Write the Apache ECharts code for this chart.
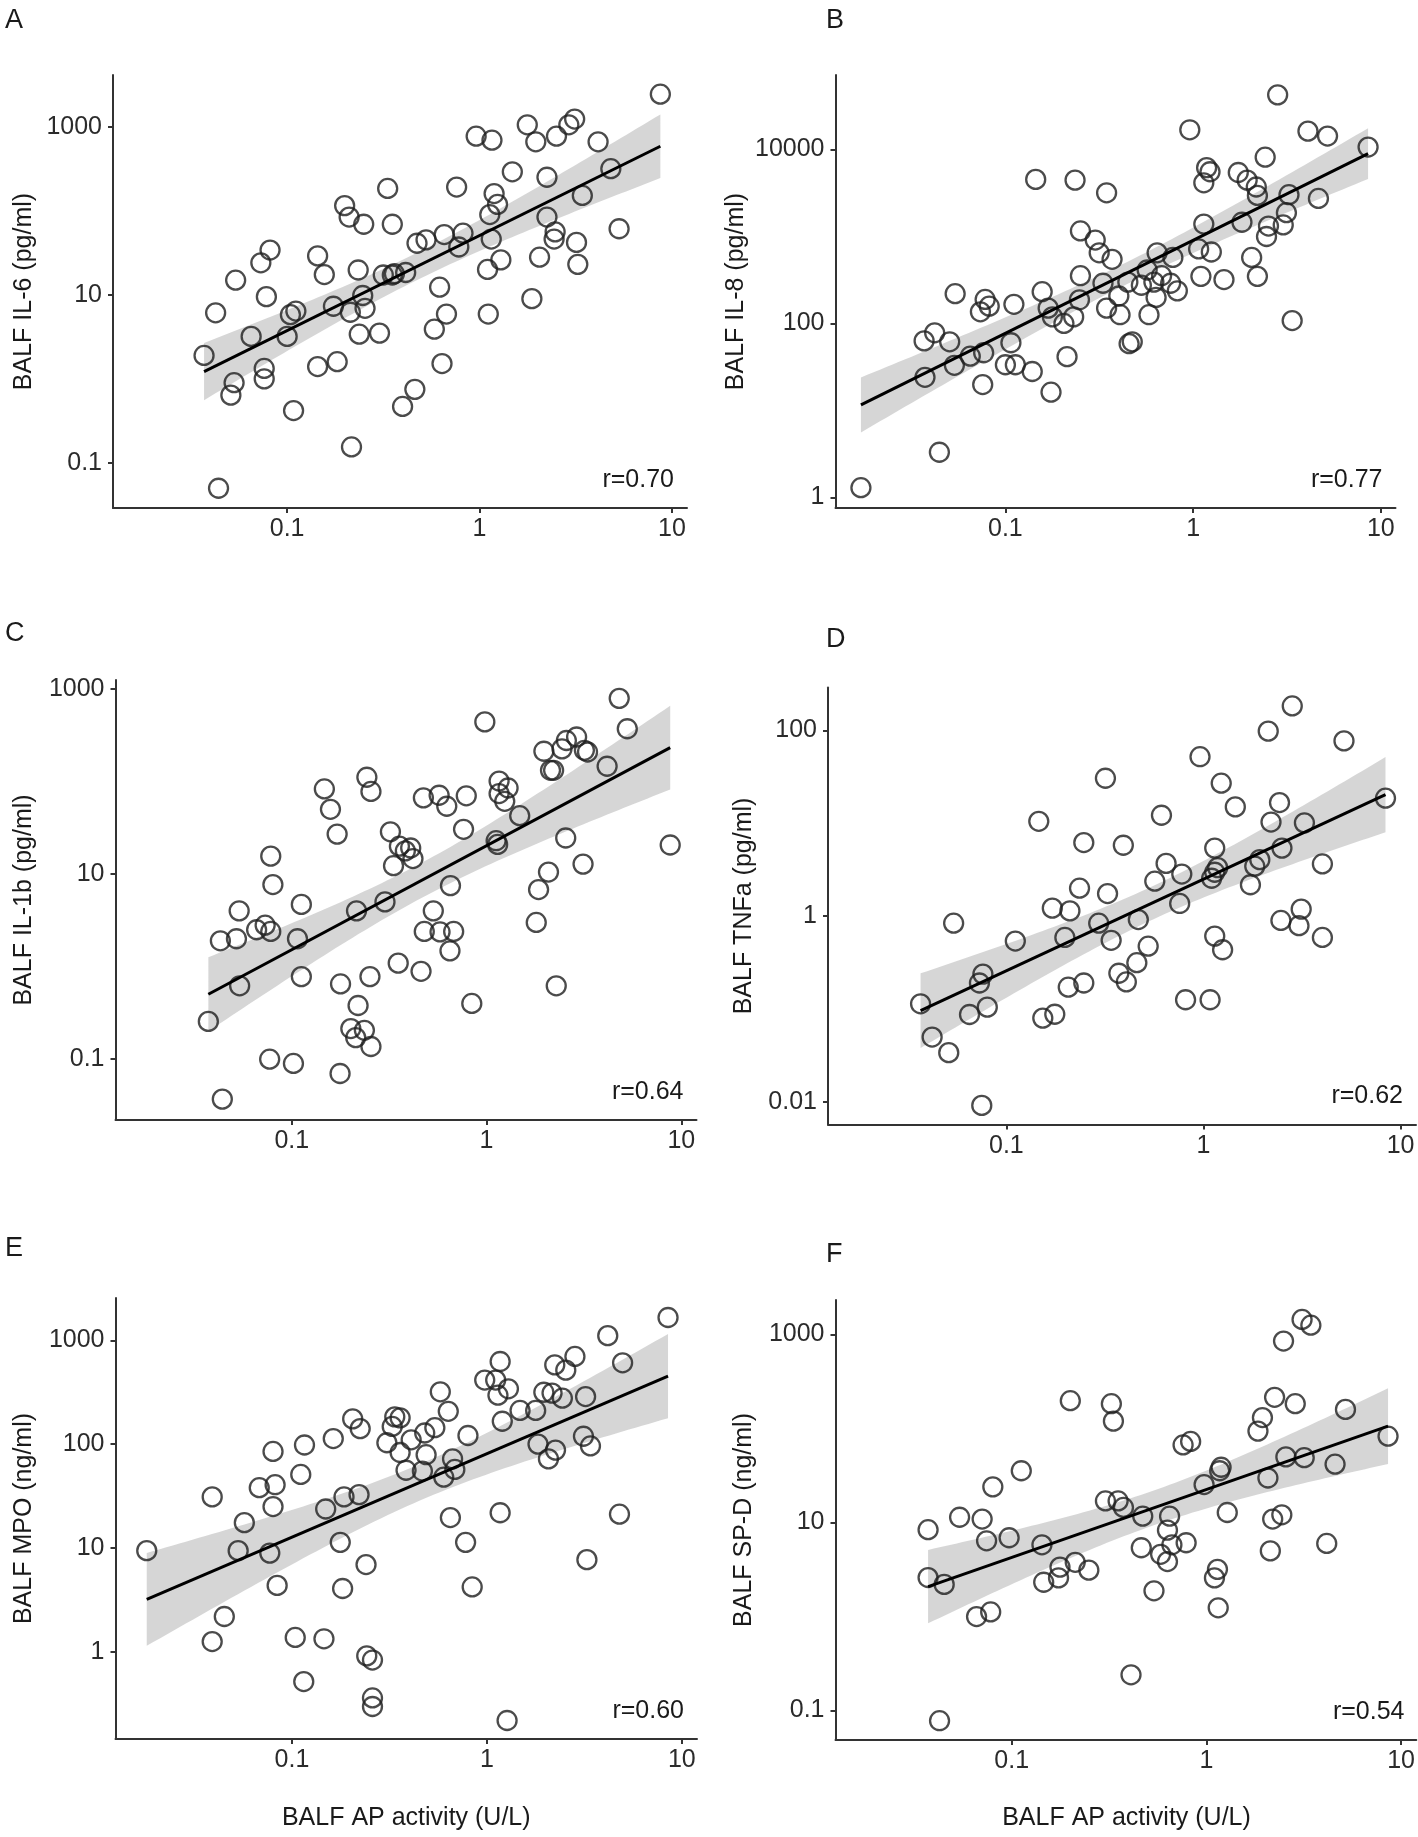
<!DOCTYPE html>
<html><head><meta charset="utf-8">
<script src="https://cdn.jsdelivr.net/npm/echarts@6/dist/echarts.min.js"></script>
<style>html,body{margin:0;padding:0;background:#fff;}#c{width:1418px;height:1837px;}</style>
</head><body><div id="c"></div>
<script>
// ---------------- DATA ----------------
// x = BALF AP activity (U/L), y = marker concentration
const apIL6 = [8.7,0.96,1.16,1.77,1.96,2.51,2.91,3.12,4.13,1.48,2.24,4.81,0.76,0.333,1.19,1.24,1.13,3.42,0.199,0.21,0.25,0.352,2.24,5.31,2.47,2.44,1.15,3.19,0.655,0.82,0.527,0.473,0.78,2.05,1.29,3.24,1.1,0.0815,0.073,0.144,0.156,0.234,0.054,0.078,0.316,0.361,0.413,0.352,0.62,0.247,0.174,0.213,0.254,0.111,0.0425,0.673,1.11,1.87,0.1,0.065,0.237,0.302,0.582,0.037,0.144,0.182,0.076,0.076,0.638,0.053,0.051,0.461,0.398,0.108,0.216,0.044,0.104];
const il6 = [2430,770,690,1050,660,770,1050,1230,660,290,250,316,191,184,160,119,90,152,115,84,69,69,84,61,56,46,46,42,52,54,45,41,37,28,26,23,20,34,24,29,17.4,19.7,14.9,9.5,17.2,17.8,18.4,17.2,12.3,9.8,7.3,6.2,6.9,6.4,6.1,5.9,5.9,9.0,3.2,3.2,3.4,3.5,3.9,1.9,1.4,1.6,1.33,1.0,1.52,0.9,0.64,0.75,0.47,0.42,0.155,0.05,5.8];

const apIL8 = [2.82,0.96,4.09,5.2,8.55,2.42,1.18,1.23,1.74,1.94,1.14,2.17,2.2,3.24,4.65,0.145,0.235,0.346,3.14,1.14,1.82,3.02,2.52,2.46,0.251,0.301,0.316,0.37,0.643,0.78,1.07,1.25,2.05,1.1,1.46,2.2,0.251,0.569,0.679,0.618,0.759,0.824,0.331,0.449,0.53,0.635,0.402,0.157,0.248,0.054,0.346,0.408,0.582,0.169,0.178,0.231,0.205,0.078,0.082,0.0736,0.111,3.37,0.0369,0.042,0.0505,0.107,0.456,0.474,0.065,0.0766,0.0535,0.1,0.113,0.213,0.139,0.0373,0.0757,0.175,0.0445,0.017];
const il8 = [42600,16900,16300,14300,10700,8170,6200,5560,5450,4450,4150,3710,2970,3030,2740,4540,4450,3180,1880,1390,1460,1360,1320,1000,1160,910,650,547,650,575,720,664,575,348,320,348,354,412,354,299,290,237,290,299,275,199,207,232,187,220,150,126,126,150,119,119,100,189,158,136,166,108,63,78,61.5,60,58.5,61.5,42,46,33,33.5,33.5,41.5,28,24,19.8,16.2,3.3,1.29];

const apIL1b = [4.8,0.98,5.28,2.9,2.57,2.44,1.97,3.18,3.3,2.13,2.21,4.16,0.243,0.255,0.147,0.158,1.16,1.29,1.16,1.24,0.474,0.571,0.625,0.787,1.48,0.171,0.321,0.762,0.357,0.383,0.408,0.419,0.333,1.12,1.14,2.55,8.77,3.13,0.078,2.08,0.08,0.653,1.85,0.112,0.301,0.215,0.533,0.0537,0.066,0.073,0.078,0.107,0.043,0.052,1.8,0.479,0.577,0.678,0.649,0.352,0.461,0.112,0.252,0.178,0.054,2.28,0.219,0.84,0.0373,0.201,0.213,0.236,0.255,0.077,0.102,0.177,0.044];
const il1b = [790,440,371,302,277,225,212,217,208,132,132,146,111,78,83,50,101,85,74,61,66.5,71,54,70,42.7,27,28.6,30.4,20,17.8,19.1,14.7,12.3,22.9,20.9,24.5,20.6,12.8,15.6,10.5,7.7,7.5,6.8,4.7,5.0,4.0,4.0,4.0,2.5,2.8,2.4,2.0,1.9,2.0,3.0,2.4,2.37,2.4,1.48,1.09,0.89,0.78,0.78,0.65,0.62,0.62,0.38,0.4,0.256,0.214,0.171,0.205,0.137,0.1,0.09,0.07,0.037];

const apTNF = [2.82,2.13,5.16,0.96,0.318,1.23,8.38,2.43,1.45,0.612,0.146,2.2,3.25,0.247,0.392,1.14,2.5,0.646,1.93,1.82,4.01,0.776,1.18,1.14,1.1,0.566,1.73,0.235,0.326,0.757,0.171,0.21,3.13,0.467,0.294,2.47,3.05,0.054,0.198,0.34,4.01,0.111,1.14,1.25,0.524,0.459,0.372,0.406,0.076,0.073,0.247,0.206,0.811,1.08,0.0367,0.08,0.065,0.153,0.176,0.042,0.051,0.075];
const tnfa = [183,98,77,52,30.5,27,18.6,16.7,15,12.2,10.5,10.3,10.1,6.2,5.8,5.4,5.4,3.7,4.06,3.45,3.65,2.84,3.33,2.97,2.56,2.38,2.18,2.0,1.75,1.37,1.22,1.14,1.19,0.92,0.84,0.9,0.79,0.84,0.59,0.55,0.59,0.54,0.61,0.435,0.475,0.316,0.243,0.196,0.238,0.191,0.191,0.172,0.126,0.126,0.114,0.105,0.0875,0.08,0.088,0.05,0.034,0.0092];

const apMPO = [8.5,4.17,1.17,2.83,2.23,2.54,4.97,0.975,1.11,1.14,1.29,1.96,2.16,2.44,3.21,0.577,0.634,1.48,1.78,1.2,0.205,0.224,0.337,0.359,0.327,0.541,0.48,0.409,0.307,0.163,0.116,0.08,0.8,0.359,0.488,0.667,1.83,2.07,2.25,3.13,3.4,0.385,0.467,0.685,0.601,0.111,0.068,0.082,0.185,0.221,0.039,0.149,0.08,0.057,0.65,1.17,4.79,0.177,0.778,0.018,0.053,0.077,3.26,0.24,0.084,0.182,0.841,0.045,0.039,0.104,0.146,0.242,0.259,0.115,0.259,0.259,1.27];
const mpo = [1660,1110,625,700,580,516,607,414,414,296,341,316,310,277,287,319,207,211,211,166,175,141,183,179,148,144,128,110,103,113,98,85,121,83,79,72,100,72,87.5,119,96,56,55,57,48,51,38,40.6,31,32.6,31,23.7,25,17.5,19.6,21.8,21.1,11.3,11.3,9.4,9.4,8.9,7.7,6.9,4.35,4.06,4.2,2.18,1.25,1.37,1.33,0.91,0.83,0.515,0.358,0.296,0.217];

const apSPD = [3.1,3.44,2.49,0.2,0.325,0.333,2.24,2.86,5.18,1.94,1.84,8.57,0.83,0.759,2.56,3.18,4.58,0.112,1.19,1.17,2.07,0.973,0.08,0.303,0.352,0.375,0.471,0.647,1.28,2.19,2.44,0.054,0.0705,0.0372,0.631,0.0743,0.097,0.143,0.463,0.665,0.787,4.15,2.13,0.582,0.631,0.212,0.177,0.249,0.174,0.146,1.14,1.1,0.0372,0.045,0.538,1.15,0.066,0.078,0.41,0.0426];
const spd = [1450,1260,853,198,184,120,215,184,160,131,94,83,73,67,50,49,41.8,35.6,38.8,35.6,29.8,25.4,24,17,17,14.5,11.7,11.7,12.8,10.9,12.1,11.4,10.9,8.4,8.3,6.4,6.9,5.8,5.4,5.8,6.1,6.0,5.0,4.6,3.85,3.78,3.36,3.12,2.58,2.32,3.18,2.58,2.6,2.2,1.88,1.24,1.0,1.12,0.24,0.078];

// tick labels
const xTicks = [0.1, 1, 10];
const yTicksIL6 = [0.1, 10, 1000];
const yTicksIL8 = [1, 100, 10000];
const yTicksIL1b = [0.1, 10, 1000];
const yTicksTNF = [0.01, 1, 100];
const yTicksMPO = [1, 10, 100, 1000];
const yTicksSPD = [0.1, 10, 1000];

// texts
const letters = ['A','B','C','D','E','F'];
const yTitles = ['BALF IL-6 (pg/ml)','BALF IL-8 (pg/ml)','BALF IL-1b (pg/ml)','BALF TNFa (pg/ml)','BALF MPO (ng/ml)','BALF SP-D (ng/ml)'];
const rLabels = ['r=0.70','r=0.77','r=0.64','r=0.62','r=0.60','r=0.54'];
const xTitle = 'BALF AP activity (U/L)';

// ---------------- LAYOUT ----------------
const FONT = "'Liberation Sans', Arial, Helvetica, sans-serif";
const XRANGE = [-1.905, 1.078]; // log10 units
const panels = [
  {x: apIL6,  y: il6,  yTicks: yTicksIL6,  yRange: [-1.536, 3.614], grid: {left: 113,   top: 75,   width: 574,   height: 433}, titleX: 24,  letter: [5, 21],    xTitle: false},
  {x: apIL8,  y: il8,  yTicks: yTicksIL8,  yRange: [-0.123, 4.858], grid: {left: 835.5, top: 75,   width: 560,   height: 433}, titleX: 736, letter: [826, 21],  xTitle: false},
  {x: apIL1b, y: il1b, yTicks: yTicksIL1b, yRange: [-1.657, 3.096], grid: {left: 115.5, top: 680,  width: 581,   height: 440}, titleX: 24,  letter: [5, 634],   xTitle: false},
  {x: apTNF,  y: tnfa, yTicks: yTicksTNF,  yRange: [-2.242, 2.461], grid: {left: 828,   top: 687.5,width: 588,   height: 437}, titleX: 744, letter: [826, 640], xTitle: false},
  {x: apMPO,  y: mpo,  yTicks: yTicksMPO,  yRange: [-0.842, 3.408], grid: {left: 115.5, top: 1298, width: 581.5, height: 441}, titleX: 24,  letter: [5, 1249],  xTitle: true},
  {x: apSPD,  y: spd,  yTicks: yTicksSPD,  yRange: [-1.313, 3.368], grid: {left: 835.5, top: 1300, width: 582,   height: 440}, titleX: 744, letter: [826, 1255],xTitle: true}
];

function fmtPow(v) {
  const p = Math.round(v);
  const val = Math.pow(10, p);
  return p >= 0 ? String(Math.round(val)) : val.toFixed(-p);
}

// least squares fit in log-log space with 95% confidence band
function fitLine(xs, ys) {
  const lx = xs.map(Math.log10), ly = ys.map(Math.log10);
  const n = lx.length;
  const mx = lx.reduce((a, b) => a + b, 0) / n;
  const my = ly.reduce((a, b) => a + b, 0) / n;
  let sxx = 0, sxy = 0;
  for (let i = 0; i < n; i++) { sxx += (lx[i] - mx) ** 2; sxy += (lx[i] - mx) * (ly[i] - my); }
  const b = sxy / sxx, a = my - b * mx;
  let sse = 0;
  for (let i = 0; i < n; i++) sse += (ly[i] - (a + b * lx[i])) ** 2;
  const s = Math.sqrt(sse / (n - 2));
  const t = 1.96 + 2.4 / (n - 2);
  const xmin = Math.min(...lx), xmax = Math.max(...lx);
  const band = [];
  const steps = 80;
  for (let k = 0; k <= steps; k++) {
    const xv = xmin + (xmax - xmin) * k / steps;
    const yh = a + b * xv;
    const se = s * Math.sqrt(1 / n + (xv - mx) ** 2 / sxx);
    band.push([xv, yh - t * se, yh + t * se]);
  }
  return {line: [[xmin, a + b * xmin], [xmax, a + b * xmax]], band};
}

const option = {animation: false, backgroundColor: '#fff', grid: [], xAxis: [], yAxis: [], series: [], graphic: []};
const axisLineStyle = {color: '#333', width: 2};

panels.forEach((p, i) => {
  option.grid.push(Object.assign({containLabel: false}, p.grid));
  option.xAxis.push({
    type: 'value', gridIndex: i, min: XRANGE[0], max: XRANGE[1],
    axisLine: {show: true, onZero: false, lineStyle: axisLineStyle},
    axisTick: {show: true, customValues: xTicks.map(Math.log10), length: 5, lineStyle: axisLineStyle},
    axisLabel: {customValues: xTicks.map(Math.log10), formatter: fmtPow, fontSize: 25, fontFamily: FONT, color: '#2b2b2b', margin: 9},
    splitLine: {show: false}
  });
  option.yAxis.push({
    type: 'value', gridIndex: i, min: p.yRange[0], max: p.yRange[1],
    axisLine: {show: true, onZero: false, lineStyle: axisLineStyle},
    axisTick: {show: true, customValues: p.yTicks.map(Math.log10), length: 5, lineStyle: axisLineStyle},
    axisLabel: {customValues: p.yTicks.map(Math.log10), formatter: fmtPow, fontSize: 25, fontFamily: FONT, color: '#2b2b2b', margin: 11},
    splitLine: {show: false}
  });
  const fit = fitLine(p.x, p.y);
  option.series.push({
    type: 'custom', xAxisIndex: i, yAxisIndex: i, z: 1, silent: true, clip: false,
    data: [[fit.band[0][0], fit.band[0][1]]],
    encode: {x: 0, y: 1},
    renderItem: function (params, api) {
      const up = fit.band.map(q => api.coord([q[0], q[2]]));
      const lo = fit.band.map(q => api.coord([q[0], q[1]])).reverse();
      return {type: 'polygon', shape: {points: up.concat(lo)}, style: {fill: 'rgba(153,153,153,0.4)'}};
    }
  });
  option.series.push({
    type: 'scatter', xAxisIndex: i, yAxisIndex: i, z: 2, silent: true,
    symbol: 'circle', symbolSize: 19,
    itemStyle: {color: 'rgba(0,0,0,0)', borderColor: '#1e1e1e', borderWidth: 2.3},
    data: p.x.map((xv, k) => [Math.log10(xv), Math.log10(p.y[k])])
  });
  option.series.push({
    type: 'line', xAxisIndex: i, yAxisIndex: i, z: 3, silent: true,
    showSymbol: false, symbol: 'none',
    lineStyle: {color: '#000', width: 3},
    data: fit.line
  });
  const g = p.grid;
  option.graphic.push({type: 'text', x: p.letter[0], y: p.letter[1], silent: true,
    style: {text: letters[i], fontSize: 27, fontFamily: FONT, fill: '#1a1a1a', align: 'left', verticalAlign: 'middle'}});
  option.graphic.push({type: 'text', x: p.titleX, y: g.top + g.height / 2, rotation: Math.PI / 2, silent: true,
    style: {text: yTitles[i], fontSize: 25, fontFamily: FONT, fill: '#1a1a1a', align: 'center', verticalAlign: 'middle'}});
  option.graphic.push({type: 'text', x: g.left + g.width - 13, y: g.top + g.height - 28, silent: true,
    style: {text: rLabels[i], fontSize: 25, fontFamily: FONT, fill: '#1a1a1a', align: 'right', verticalAlign: 'middle'}});
  if (p.xTitle) {
    option.graphic.push({type: 'text', x: g.left + g.width / 2, y: 1818, silent: true,
      style: {text: xTitle, fontSize: 25, fontFamily: FONT, fill: '#1a1a1a', align: 'center', verticalAlign: 'middle'}});
  }
});

const chart = echarts.init(document.getElementById('c'), null, {renderer: 'canvas'});
chart.setOption(option);
</script>
</body></html>
